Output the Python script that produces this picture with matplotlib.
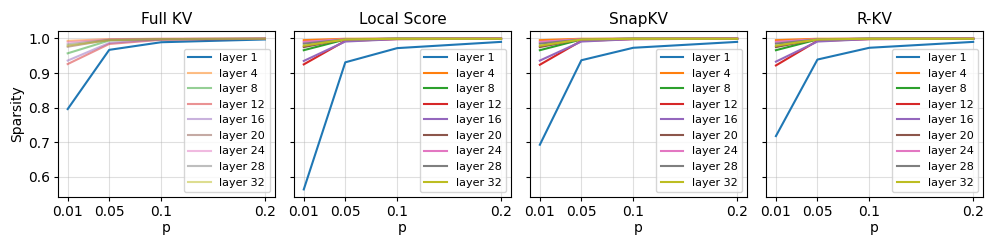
import numpy as np
import matplotlib
matplotlib.use("Agg")
import matplotlib.pyplot as plt

# p values on the x axis
p_vals = [0.01, 0.05, 0.1, 0.2]
layers = [1, 4, 8, 12, 16, 20, 24, 28, 32]
methods = ["Full KV", "Local Score", "SnapKV", "R-KV"]

# sparsity per layer (rows follow `layers`)
full_kv = [
    [0.796, 0.967, 0.989, 0.997],
    [0.993, 0.998, 0.999, 1.000],
    [0.957, 0.994, 0.998, 0.999],
    [0.926, 0.984, 0.996, 0.999],
    [0.936, 0.987, 0.997, 0.999],
    [0.976, 0.996, 0.998, 0.999],
    [0.989, 0.997, 0.999, 1.000],
    [0.983, 0.996, 0.998, 0.999],
    [0.979, 0.995, 0.998, 0.999],
]
local_score = [
    [0.564, 0.931, 0.972, 0.990],
    [0.995, 0.999, 0.999, 1.000],
    [0.966, 0.997, 0.999, 0.999],
    [0.925, 0.993, 0.998, 0.999],
    [0.935, 0.991, 0.998, 0.999],
    [0.975, 0.998, 0.999, 0.999],
    [0.990, 0.998, 0.999, 1.000],
    [0.985, 0.997, 0.999, 0.999],
    [0.979, 0.997, 0.999, 0.999],
]
snapkv = [
    [0.693, 0.937, 0.973, 0.990],
    [0.995, 0.999, 0.999, 1.000],
    [0.966, 0.997, 0.999, 0.999],
    [0.924, 0.993, 0.998, 0.999],
    [0.936, 0.991, 0.998, 0.999],
    [0.975, 0.998, 0.999, 0.999],
    [0.990, 0.998, 0.999, 1.000],
    [0.985, 0.997, 0.999, 0.999],
    [0.979, 0.997, 0.999, 0.999],
]
rkv = [
    [0.718, 0.939, 0.973, 0.990],
    [0.995, 0.999, 0.999, 1.000],
    [0.966, 0.997, 0.999, 0.999],
    [0.922, 0.993, 0.998, 0.999],
    [0.933, 0.991, 0.998, 0.999],
    [0.975, 0.998, 0.999, 0.999],
    [0.990, 0.998, 0.999, 1.000],
    [0.985, 0.997, 0.999, 0.999],
    [0.979, 0.997, 0.999, 0.999],
]
all_data = [full_kv, local_score, snapkv, rkv]

fig, axes = plt.subplots(1, 4, figsize=(9.97, 2.49), dpi=100, sharey=True)
fig.subplots_adjust(left=0.058, right=0.986, bottom=0.209, top=0.876, wspace=0.088)

for i, ax in enumerate(axes):
    data = all_data[i]
    for j, layer in enumerate(layers):
        # Full KV: only layer 1 fully opaque
        a = 0.5 if (i == 0 and j > 0) else 1.0
        ax.plot(p_vals, data[j], color=f"C{j}", alpha=a, label=f"layer {layer}")
    ax.set_title(methods[i], fontsize=11, pad=5)
    ax.set_xlabel("p", labelpad=2)
    ax.set_xticks(p_vals)
    ax.set_xticklabels(["0.01", "0.05", "0.1", "0.2"])
    ax.tick_params(length=3, pad=2.5)
    ax.grid(True, alpha=0.4)
    ax.legend(loc="lower right", fontsize=8, borderaxespad=0.45)

axes[0].set_ylabel("Sparsity", labelpad=3)
axes[0].set_yticks([0.6, 0.7, 0.8, 0.9, 1.0])

plt.savefig("out.png")
